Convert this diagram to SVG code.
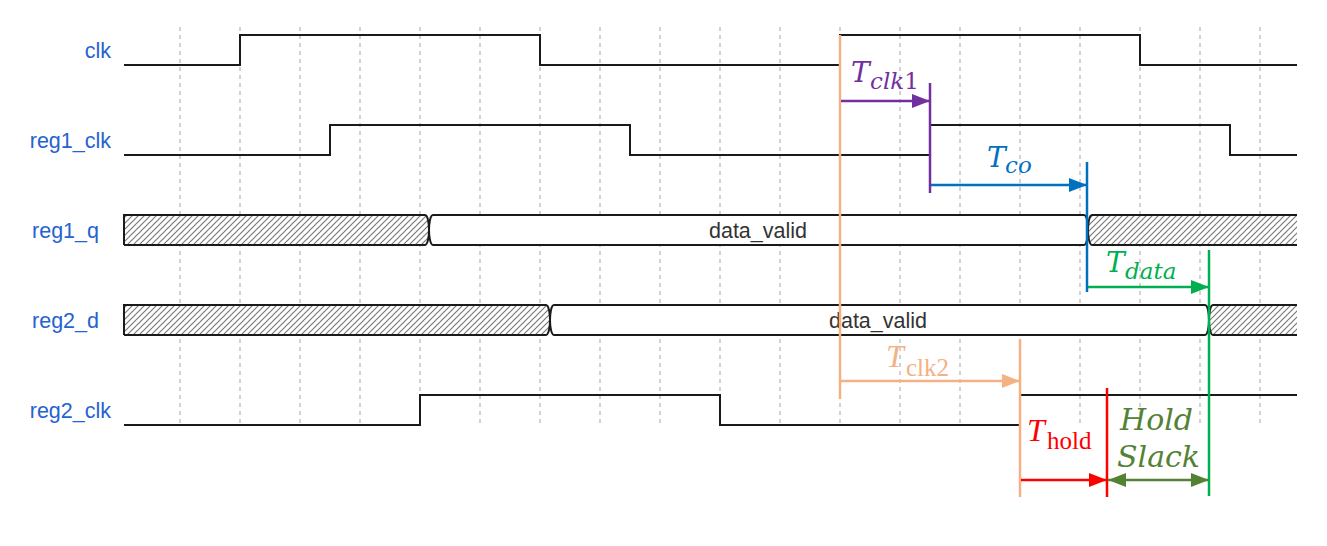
<svg xmlns="http://www.w3.org/2000/svg" width="1327" height="546" viewBox="0 0 1327 546">
<style>
.grid{stroke:#c4c4c4;stroke-width:1.5;stroke-dasharray:4 4;fill:none}
.wave{stroke:#1a1a1a;stroke-width:2;fill:none}
.hatch{fill:url(#hatch);stroke:none}
.valid{fill:#fff;stroke:#1a1a1a;stroke-width:2}
.lbl{font-family:"Liberation Sans",Arial,sans-serif;font-size:21.5px;fill:#2563d0;text-anchor:end}
.dv{font-family:"Liberation Sans",Arial,sans-serif;font-size:21.5px;fill:#333;text-anchor:middle}
.mi{font-family:"DejaVu Serif",serif;font-style:italic}
.tm{font-family:"Liberation Serif","Times New Roman",serif}
.tmi{font-family:"Liberation Serif","Times New Roman",serif;font-style:italic}
.ln{fill:none;stroke-width:2.5}
</style>
<defs>
<pattern id="hatch" patternUnits="userSpaceOnUse" width="6" height="6">
<rect width="6" height="6" fill="#fff"/>
<path d="M-1,1 l2,-2 M0,6 l6,-6 M5,7 l2,-2" stroke="#7a7a7a" stroke-width="1.2"/>
</pattern>
<marker id="aP" viewBox="0 0 18 14" refX="18" refY="7" markerWidth="18" markerHeight="14" markerUnits="userSpaceOnUse" orient="auto"><path d="M0,0 L18,7 L0,14 Z" fill="#7030a0"/></marker>
<marker id="aB" viewBox="0 0 18 14" refX="18" refY="7" markerWidth="18" markerHeight="14" markerUnits="userSpaceOnUse" orient="auto"><path d="M0,0 L18,7 L0,14 Z" fill="#0070c0"/></marker>
<marker id="aG" viewBox="0 0 18 14" refX="18" refY="7" markerWidth="18" markerHeight="14" markerUnits="userSpaceOnUse" orient="auto"><path d="M0,0 L18,7 L0,14 Z" fill="#00b050"/></marker>
<marker id="aO" viewBox="0 0 18 14" refX="18" refY="7" markerWidth="18" markerHeight="14" markerUnits="userSpaceOnUse" orient="auto"><path d="M0,0 L18,7 L0,14 Z" fill="#f4b183"/></marker>
<marker id="aR" viewBox="0 0 18 14" refX="18" refY="7" markerWidth="18" markerHeight="14" markerUnits="userSpaceOnUse" orient="auto"><path d="M0,0 L18,7 L0,14 Z" fill="#ff0000"/></marker>
<marker id="aD" viewBox="0 0 18 14" refX="18" refY="7" markerWidth="18" markerHeight="14" markerUnits="userSpaceOnUse" orient="auto-start-reverse"><path d="M0,0 L18,7 L0,14 Z" fill="#548235"/></marker>
</defs>
<rect width="1327" height="546" fill="#fff"/>
<g id="grid">
<path class="grid" d="M180,27V423 M240,27V423 M300,27V423 M360,27V423 M420,27V423 M480,27V423 M540,27V423 M600,27V423 M660,27V423 M720,27V423 M780,27V423 M840,27V423 M900,27V423 M960,27V423 M1020,27V423 M1080,27V423 M1140,27V423 M1200,27V423 M1260,27V423"/>
</g>
<g id="clk">
<text class="lbl" x="111" y="58">clk</text>
<path class="wave" d="M124,65 H240 V35 H540 V65 H840 V35 H1140 V65 H1297"/>
</g>
<g id="reg1_clk">
<text class="lbl" x="111" y="148">reg1_clk</text>
<path class="wave" d="M124,155 H330 V125 H630 V155 H930 V125 H1230 V155 H1297"/>
</g>
<g id="reg1_q">
<text class="lbl" x="99" y="238">reg1_q</text>
<path class="hatch" d="M124,215 H425 C428,215 429,225 429,230 C429,235 428,245 425,245 H124 Z"/>
<path class="wave" d="M124,245 V215 H425 C428,215 429,225 429,230 C429,235 428,245 425,245 H124"/>
<path class="valid" d="M433,215 H1084 C1087,215 1088,225 1088,230 C1088,235 1087,245 1084,245 H433 C430,245 429,235 429,230 C429,225 430,215 433,215 Z"/>
<text class="dv" x="758" y="238">data_valid</text>
<path class="hatch" d="M1297,215 H1092 C1089,215 1088,225 1088,230 C1088,235 1089,245 1092,245 H1297 Z"/>
<path class="wave" d="M1297,215 H1092 C1089,215 1088,225 1088,230 C1088,235 1089,245 1092,245 H1297"/>
</g>
<g id="reg2_d">
<text class="lbl" x="99" y="328">reg2_d</text>
<path class="hatch" d="M124,305 H546 C549,305 550,315 550,320 C550,325 549,335 546,335 H124 Z"/>
<path class="wave" d="M124,335 V305 H546 C549,305 550,315 550,320 C550,325 549,335 546,335 H124"/>
<path class="valid" d="M554,305 H1205 C1208,305 1209,315 1209,320 C1209,325 1208,335 1205,335 H554 C551,335 550,325 550,320 C550,315 551,305 554,305 Z"/>
<text class="dv" x="878" y="328">data_valid</text>
<path class="hatch" d="M1297,305 H1213 C1210,305 1209,315 1209,320 C1209,325 1210,335 1213,335 H1297 Z"/>
<path class="wave" d="M1297,305 H1213 C1210,305 1209,315 1209,320 C1209,325 1210,335 1213,335 H1297"/>
</g>
<g id="reg2_clk">
<text class="lbl" x="111" y="418">reg2_clk</text>
<path class="wave" d="M124,425 H420 V395 H720 V425 H1020 V395 H1297"/>
</g>
<g id="connectors">
<path class="ln" stroke="#f4b183" d="M840,35 V399"/>
<path class="ln" stroke="#7030a0" d="M930,83 V193"/>
<path class="ln" stroke="#7030a0" d="M841,101 H930" marker-end="url(#aP)"/>
<path class="ln" stroke="#0070c0" d="M1087,162 V292"/>
<path class="ln" stroke="#0070c0" d="M931,185 H1087" marker-end="url(#aB)"/>
<path class="ln" stroke="#00b050" d="M1209,250 V496"/>
<path class="ln" stroke="#00b050" d="M1088,287 H1209" marker-end="url(#aG)"/>
<path class="ln" stroke="#f4b183" d="M1020,339 V497"/>
<path class="ln" stroke="#f4b183" d="M841,381 H1020" marker-end="url(#aO)"/>
<path class="ln" stroke="#ff0000" d="M1107,388 V497"/>
<path class="ln" stroke="#ff0000" d="M1021,480 H1107" marker-end="url(#aR)"/>
<path class="ln" stroke="#548235" d="M1108,480 H1209" marker-start="url(#aD)" marker-end="url(#aD)"/>
</g>
<g id="t_clk1" fill="#7030a0">
<text class="mi" x="851" y="82" font-size="28">T</text>
<text class="mi" x="870" y="89" font-size="23">clk<tspan font-style="normal">1</tspan></text>
</g>
<g id="t_co" fill="#0070c0">
<text class="mi" x="987" y="167" font-size="28">T</text>
<text class="mi" x="1005" y="173" font-size="23">co</text>
</g>
<g id="t_data" fill="#00b050">
<text class="mi" x="1106" y="272" font-size="28">T</text>
<text class="mi" x="1125" y="279" font-size="23">data</text>
</g>
<g id="t_clk2" fill="#f4b183">
<text class="tmi" x="886" y="367" font-size="32">T</text>
<text class="tm" x="906" y="376" font-size="25">clk2</text>
</g>
<g id="t_hold" fill="#ff0000">
<text class="tmi" x="1027" y="441" font-size="32">T</text>
<text class="tm" x="1047" y="449" font-size="25">hold</text>
</g>
<g id="hold_slack" fill="#548235">
<text class="mi" x="1120" y="430" font-size="30">Hold</text>
<text class="mi" x="1117" y="467" font-size="30">Slack</text>
</g>
</svg>
